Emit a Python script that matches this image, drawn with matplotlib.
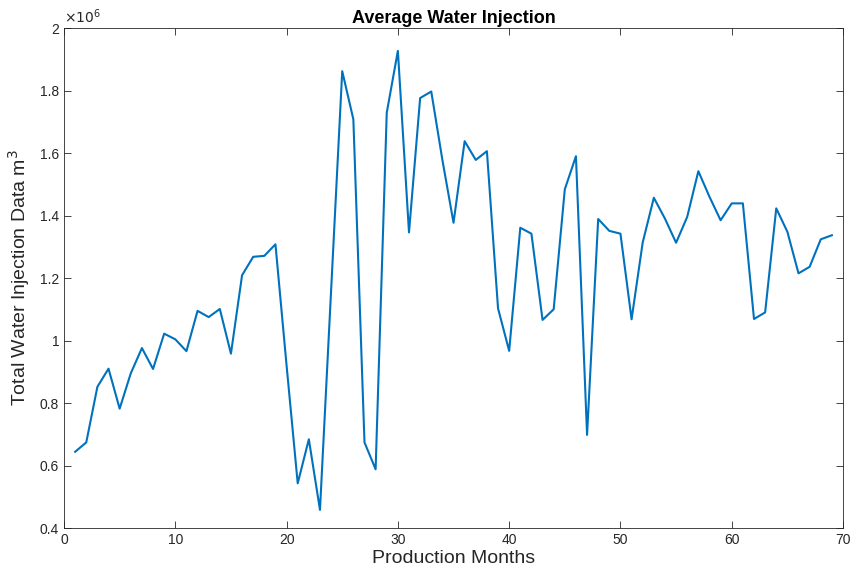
import matplotlib
matplotlib.use('Agg')
import matplotlib.pyplot as plt
from matplotlib.ticker import FuncFormatter
import numpy as np

plt.rcParams['font.family'] = ['Liberation Sans', 'DejaVu Sans']

# average water injection per month, in units of 1e6 m^3
months = list(range(1, 70))
injection_e6 = [
    0.644, 0.674, 0.852, 0.910, 0.782, 0.895, 0.976, 0.909, 1.022, 1.004,
    0.966, 1.095, 1.075, 1.101, 0.958, 1.209, 1.268, 1.271, 1.308, 0.920,
    0.543, 0.684, 0.458, 1.160, 1.862, 1.708, 0.674, 0.588, 1.729, 1.927,
    1.346, 1.776, 1.797, 1.578, 1.377, 1.638, 1.578, 1.606, 1.103, 0.967,
    1.361, 1.342, 1.066, 1.100, 1.484, 1.590, 0.698, 1.389, 1.351, 1.342,
    1.068, 1.314, 1.457, 1.390, 1.313, 1.396, 1.542, 1.460, 1.385, 1.439,
    1.439, 1.069, 1.090, 1.423, 1.348, 1.215, 1.236, 1.324, 1.337,
]
xticks = [0, 10, 20, 30, 40, 50, 60, 70]
yticks = [0.4, 0.6, 0.8, 1.0, 1.2, 1.4, 1.6, 1.8, 2.0]

injection = np.array(injection_e6) * 1e6

fig = plt.figure(figsize=(8.5, 5.73), dpi=100)
ax = fig.add_axes([0.0753, 0.0785, 0.9165, 0.8725])

ax.plot(months, injection, color='#0072BD', lw=1.5)

ax.set_xlim(0, 70)
ax.set_ylim(0.4e6, 2.0e6)
ax.set_xticks(xticks)
ax.set_yticks([v * 1e6 for v in yticks])
ax.yaxis.set_major_formatter(FuncFormatter(lambda v, p: '%g' % round(v / 1e6, 3)))

for s in ax.spines.values():
    s.set_color('#262626')
    s.set_linewidth(0.6)
ax.tick_params(direction='in', top=True, right=True, length=5, width=0.6,
               labelsize=10, colors='#262626')

ax.set_xlabel('Production Months', fontsize=14, color='#262626', labelpad=2)
ax.set_ylabel('Total Water Injection Data m$^3$', fontsize=14, color='#262626', labelpad=6)
ax.set_title('Average Water Injection', fontsize=13, fontweight='bold', pad=4)
ax.text(0.0, 1.005, r'$\times10^6$', transform=ax.transAxes, fontsize=10,
        color='#262626', ha='left', va='bottom')

fig.savefig('out.png', dpi=100)
